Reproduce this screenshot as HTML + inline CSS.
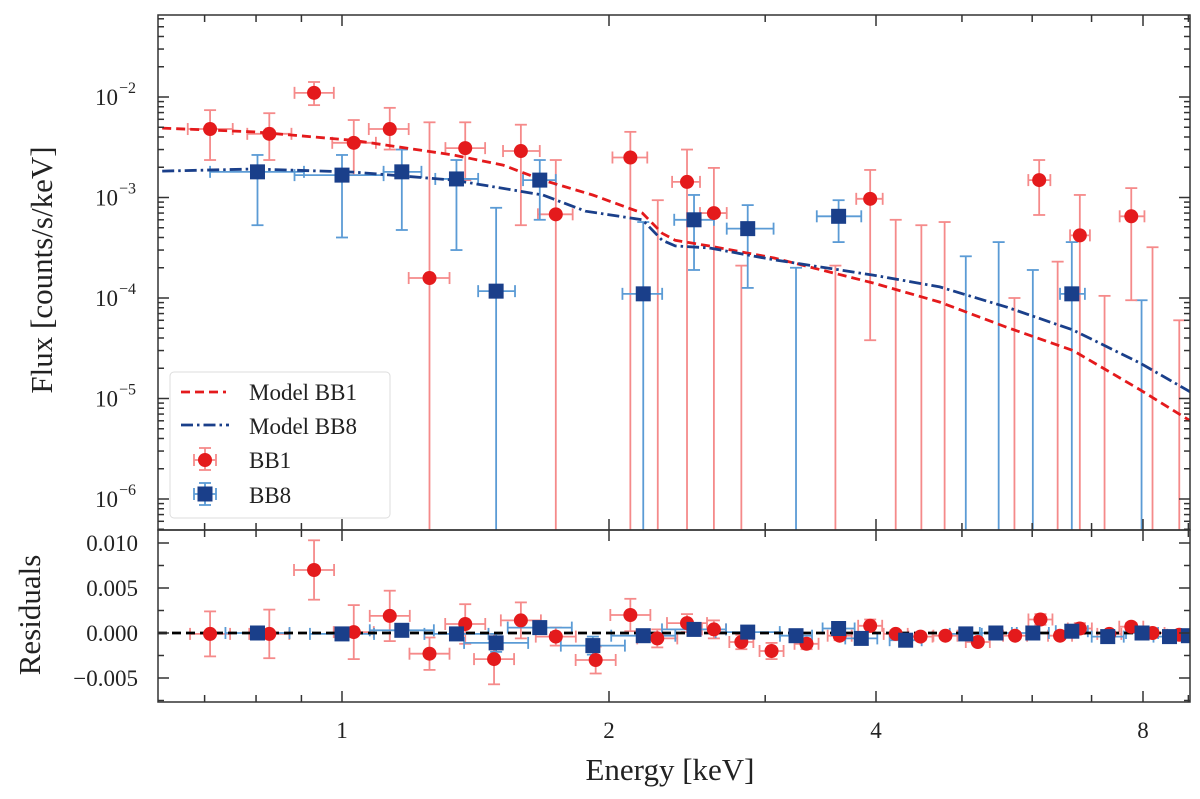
<!DOCTYPE html>
<html><head><meta charset="utf-8">
<style>
html,body{margin:0;padding:0;background:#fff;}
svg{display:block;font-family:"Liberation Serif",serif;}
</style></head>
<body>
<svg id="chart" width="1200" height="799" viewBox="0 0 1200 799" xmlns="http://www.w3.org/2000/svg"></svg>
<script>
// ---------- data ----------
const bb1E    = [0.710,0.828,0.930,1.031,1.132,1.255,1.377,1.591,1.742,2.114,2.449,2.626,3.94,6.11,6.79,7.76];
const bb1ELo  = [0.670,0.782,0.884,0.975,1.072,1.189,1.308,1.519,1.663,2.018,2.356,2.533,3.80,5.94,6.62,7.53];
const bb1EHi  = [0.753,0.877,0.979,1.092,1.189,1.322,1.450,1.671,1.820,2.209,2.533,2.715,4.07,6.29,6.97,8.03];
const bb1F    = [4.8e-3,4.3e-3,1.10e-2,3.5e-3,4.8e-3,1.58e-4,3.1e-3,2.9e-3,6.8e-4,2.5e-3,1.43e-3,7.0e-4,9.7e-4,1.49e-3,4.2e-4,6.5e-4];
const bb1FLo  = [2.36e-3,2.36e-3,8.3e-3,1.67e-3,3.0e-3,1e-7,1.49e-3,5.3e-4,1e-7,1e-7,1e-7,1e-7,3.8e-5,6.7e-4,1e-7,9.5e-5];
const bb1FHi  = [7.4e-3,6.9e-3,1.41e-2,5.9e-3,7.8e-3,5.6e-3,5.6e-3,5.3e-3,2.36e-3,4.5e-3,3.0e-3,1.97e-3,1.88e-3,2.36e-3,1.06e-3,1.24e-3];
const bb1UlE  = [2.27,2.82,3.60,4.21,4.50,4.78,5.73,6.41,7.24,8.20,8.79];
const bb1UlF  = [9.4e-4,2.1e-4,2.1e-4,6.0e-4,5.3e-4,5.7e-4,1.0e-4,2.3e-4,1.05e-4,3.2e-4,6.0e-5];
const bb8E    = [0.803,1.000,1.168,1.346,1.492,1.671,2.186,2.494,2.867,3.63,6.65];
const bb8ELo  = [0.710,0.884,1.114,1.274,1.424,1.600,2.071,2.369,2.715,3.43,6.45];
const bb8EHi  = [0.906,1.114,1.229,1.424,1.567,1.742,2.296,2.626,3.066,3.85,6.88];
const bb8F    = [1.8e-3,1.67e-3,1.8e-3,1.53e-3,1.17e-4,1.49e-3,1.1e-4,6.0e-4,4.9e-4,6.5e-4,1.1e-4];
const bb8FLo  = [5.3e-4,4.0e-4,4.75e-4,3.0e-4,1e-7,6.0e-4,1e-7,1.9e-4,1.26e-4,3.6e-4,1e-7];
const bb8FHi  = [2.65e-3,2.65e-3,3.0e-3,2.36e-3,7.9e-4,2.36e-3,5.7e-4,1.06e-3,8.4e-4,9.4e-4,3.6e-4];
const bb8UlE  = [3.25,5.05,5.50,6.01,7.97];
const bb8UlF  = [2.0e-4,2.6e-4,3.6e-4,1.9e-4,9.5e-5];
const modE1   = [0.627,0.797,1.031,1.335,1.519,1.684,1.917,2.181,2.296,2.375,2.592,3.07,3.97,4.72,5.62,6.67,7.94,9.1];
const modF1   = [4.9e-3,4.5e-3,3.7e-3,2.65e-3,2.1e-3,1.49e-3,1.06e-3,7.0e-4,4.4e-4,3.75e-4,3.3e-4,2.5e-4,1.41e-4,9.1e-5,5.1e-5,3.0e-5,1.22e-5,5.8e-6];
const modE8   = [0.627,0.797,1.031,1.335,1.684,1.882,2.181,2.296,2.375,2.592,3.07,3.97,4.72,5.62,6.67,7.94,9.1];
const modF8   = [1.83e-3,1.92e-3,1.79e-3,1.49e-3,1.06e-3,7.3e-4,6.0e-4,3.75e-4,3.3e-4,3.15e-4,2.4e-4,1.69e-4,1.29e-4,8.1e-5,4.8e-5,2.25e-5,1.13e-5];
const resE1   = [0.710,0.828,0.930,1.031,1.132,1.255,1.377,1.484,1.591,1.742,1.932,2.114,2.267,2.449,2.626,2.82,3.05,3.34,3.64,3.94,4.21,4.49,4.79,5.21,5.74,6.13,6.45,6.79,7.33,7.76,8.20,8.79];
const resV1   = [-0.0001,-0.0001,0.0070,0.0001,0.0019,-0.0023,0.0010,-0.0029,0.0014,-0.0004,-0.0030,0.0020,-0.0006,0.0011,0.0004,-0.0010,-0.0020,-0.0012,-0.0003,0.0008,-0.0001,-0.0004,-0.0003,-0.0010,-0.0003,0.0015,-0.0003,0.0005,-0.0001,0.0007,0.0000,-0.0002];
const resErr1 = [0.0025,0.0027,0.0033,0.0030,0.0028,0.0018,0.0022,0.0028,0.0020,0.0010,0.0015,0.0018,0.0010,0.0010,0.0010,0.0008,0.0009,0.0006,0.0005,0.0007,0.0004,0.0004,0.0003,0.0003,0.0003,0.0006,0.0003,0.0006,0.0003,0.0004,0.0003,0.0003];
const resE8   = [0.803,1.000,1.168,1.346,1.492,1.671,1.918,2.186,2.494,2.867,3.25,3.63,3.85,4.32,5.05,5.46,6.01,6.65,7.30,7.98,8.57,9.00];
const resV8   = [0.0000,-0.0001,0.0003,-0.0001,-0.0011,0.0006,-0.0014,-0.0003,0.0004,0.0001,-0.0003,0.0005,-0.0006,-0.0008,-0.0001,0.0000,0.0000,0.0002,-0.0004,0.0000,-0.0004,-0.0003];
const resErr8 = [0.0004,0.0004,0.0004,0.0005,0.0010,0.0005,0.0010,0.0005,0.0004,0.0004,0.0004,0.0004,0.0004,0.0004,0.0003,0.0003,0.0003,0.0003,0.0003,0.0003,0.0003,0.0003];
const resBin1 = 0.075;
const xTickVals = [1,2,4,8];
const yTickExp  = [-2,-3,-4,-5,-6];
const rTickVals = [0.010,0.005,0.000,-0.005];
const rTickLbls = ["0.010","0.005","0.000","\u22120.005"];

const L=158,R=1190,T1=15,B1=530,T2=530,B2=702;
const X1=342,OCT=267;
function xs(e){return X1+OCT*Math.log2(e);}
function ys(f){return 97+100.5*(-2-Math.log10(f));}
function yr(v){return 633-9000*v;}
const svg=document.getElementById('chart');
const NS='http://www.w3.org/2000/svg';
function mk(tag,at,parent){const el=document.createElementNS(NS,tag);for(const k in at)el.setAttribute(k,at[k]);(parent||svg).appendChild(el);return el;}

const RED='#e41a1c',REDL='#f58a8a',BLU='#1a3f8a',BLUL='#5b9bd5';

const defs=mk('defs',{});
const c1=mk('clipPath',{id:'c1'},defs);mk('rect',{x:L,y:T1,width:R-L,height:B1-T1},c1);
const c2=mk('clipPath',{id:'c2'},defs);mk('rect',{x:L,y:T2,width:R-L,height:B2-T2},c2);

const gTop=mk('g',{'clip-path':'url(#c1)'});


const gRes=mk('g',{'clip-path':'url(#c2)'});



function vbar(grp,x,ylo,yhi,capT,capB){
  mk('line',{x1:x,y1:ylo,x2:x,y2:yhi},grp);
  if(capT)mk('line',{x1:x-6,y1:yhi,x2:x+6,y2:yhi},grp);
  if(capB)mk('line',{x1:x-6,y1:ylo,x2:x+6,y2:ylo},grp);
}
function hbar(grp,x0,x1,y){
  mk('line',{x1:x0,y1:y,x2:x1,y2:y},grp);
  mk('line',{x1:x0,y1:y-6,x2:x0,y2:y+6},grp);
  mk('line',{x1:x1,y1:y-6,x2:x1,y2:y+6},grp);
}
function modelPath(E,F){return E.map((e,i)=>(i?'L':'M')+xs(e).toFixed(1)+','+ys(F[i]).toFixed(1)).join(' ');}

for(let i=0;i<bb1UlE.length;i++){
  const g=mk('g',{stroke:REDL,'stroke-width':1.8},gTop);
  
  
  vbar(g,xs(bb1UlE[i]),B1+5,ys(bb1UlF[i]),true,false);
}
for(let i=0;i<bb8UlE.length;i++){
  const g=mk('g',{stroke:BLUL,'stroke-width':1.8},gTop);
  
  
  vbar(g,xs(bb8UlE[i]),B1+5,ys(bb8UlF[i]),true,false);
}
for(let i=0;i<bb1E.length;i++){
  const g=mk('g',{stroke:REDL,'stroke-width':1.8},gTop);
  
  
  const y=ys(bb1F[i]),x=xs(bb1E[i]);
  hbar(g,xs(bb1ELo[i]),xs(bb1EHi[i]),y);
  vbar(g,x,Math.min(ys(bb1FLo[i]),B1+5),ys(bb1FHi[i]),true,bb1FLo[i]>1e-6);
}
for(let i=0;i<bb8E.length;i++){
  const g=mk('g',{stroke:BLUL,'stroke-width':1.8},gTop);
  
  
  const y=ys(bb8F[i]),x=xs(bb8E[i]);
  hbar(g,xs(bb8ELo[i]),xs(bb8EHi[i]),y);
  vbar(g,x,Math.min(ys(bb8FLo[i]),B1+5),ys(bb8FHi[i]),true,bb8FLo[i]>1e-6);
}
const m1=mk('path',{d:modelPath(modE1,modF1),fill:'none',stroke:RED,'stroke-width':2.8,'stroke-dasharray':'9,5'},gTop);


const m8=mk('path',{d:modelPath(modE8,modF8),fill:'none',stroke:BLU,'stroke-width':2.8,'stroke-dasharray':'12,4,2.5,4'},gTop);


for(let i=0;i<bb1E.length;i++){
  const c=mk('circle',{cx:xs(bb1E[i]),cy:ys(bb1F[i]),r:7,fill:RED},gTop);
  
  
}
for(let i=0;i<bb8E.length;i++){
  const r=mk('rect',{x:xs(bb8E[i])-7.5,y:ys(bb8F[i])-7.5,width:15,height:15,fill:BLU},gTop);
  
  
}

for(let i=0;i<resE1.length;i++){
  const g=mk('g',{stroke:REDL,'stroke-width':1.8},gRes);
  
  
  const w=resE1[i]<2.5?resBin1:0.045;
  const y=yr(resV1[i]);
  hbar(g,xs(resE1[i]*Math.pow(2,-w)),xs(resE1[i]*Math.pow(2,w)),y);
  vbar(g,xs(resE1[i]),yr(resV1[i]-resErr1[i]),yr(resV1[i]+resErr1[i]),true,true);
}
for(let i=0;i<resE8.length;i++){
  const g=mk('g',{stroke:BLUL,'stroke-width':1.8},gRes);
  
  
  const w=resE8[i]<3?0.12:0.06;
  const y=yr(resV8[i]);
  hbar(g,xs(resE8[i]*Math.pow(2,-w)),xs(resE8[i]*Math.pow(2,w)),y);
  vbar(g,xs(resE8[i]),yr(resV8[i]-resErr8[i]),yr(resV8[i]+resErr8[i]),true,true);
}
const zl=mk('line',{x1:L,y1:yr(0),x2:R,y2:yr(0),stroke:'#000','stroke-width':2.8,'stroke-dasharray':'9,5'},gRes);


for(let i=0;i<resE1.length;i++){
  const c=mk('circle',{cx:xs(resE1[i]),cy:yr(resV1[i]),r:7,fill:RED},gRes);
  
  
}
for(let i=0;i<resE8.length;i++){
  const r=mk('rect',{x:xs(resE8[i])-7.5,y:yr(resV8[i])-7.5,width:15,height:15,fill:BLU},gRes);
  
  
}

const ax=mk('g',{stroke:'#333','stroke-width':1.5,fill:'none'});


mk('rect',{x:L,y:T1,width:R-L,height:B1-T1},ax);
mk('rect',{x:L,y:T2,width:R-L,height:B2-T2},ax);
const xMinor=[0.7,0.8,0.9,3,5,6,7,9];
function xt(v,major){
  const x=xs(v),len=major?11:7;
  [[T1,1],[B1,-1],[T2,1],[B2,-1]].forEach(([y,d])=>mk('line',{x1:x,y1:y,x2:x,y2:y+d*len},ax));
}
xTickVals.forEach(v=>xt(v,true));
xMinor.forEach(v=>xt(v,false));
for(let e=-7;e<=-1;e++){
  for(let m=1;m<10;m++){
    const y=ys(m*Math.pow(10,e));
    if(y<T1||y>B1)continue;
    const len=m===1?11:6;
    mk('line',{x1:L,y1:y,x2:L+len,y2:y},ax);
    mk('line',{x1:R,y1:y,x2:R-len,y2:y},ax);
  }
}
rTickVals.forEach(v=>{const y=yr(v);mk('line',{x1:L,y1:y,x2:L+11,y2:y},ax);mk('line',{x1:R,y1:y,x2:R-11,y2:y},ax);});
[-0.0075,-0.0025,0.0025,0.0075].forEach(v=>{const y=yr(v);mk('line',{x1:L,y1:y,x2:L+6,y2:y},ax);mk('line',{x1:R,y1:y,x2:R-6,y2:y},ax);});

const lab=mk('g',{fill:'#222','font-size':23});


xTickVals.forEach(v=>{const t=mk('text',{x:xs(v),y:738,'text-anchor':'middle'},lab);t.textContent=String(v);
  });
yTickExp.forEach(e=>{const y=ys(Math.pow(10,e));
  const t=mk('text',{x:118,y:y+8,'text-anchor':'end'},lab);t.textContent='10';
  
  const s=mk('text',{x:119,y:y-4,'font-size':16},lab);s.textContent='\u2212'+(-e);});
rTickVals.forEach((v,i)=>{const t=mk('text',{x:138,y:yr(v)+8,'text-anchor':'end'},lab);t.textContent=rTickLbls[i];
  });

let t=mk('text',{x:670,y:780,'text-anchor':'middle','font-size':31,fill:'#222'});t.textContent='Energy [keV]';

t=mk('text',{x:0,y:0,'text-anchor':'middle','font-size':31,fill:'#222',transform:'translate(52,270) rotate(-90)'});t.textContent='Flux [counts/s/keV]';

t=mk('text',{x:0,y:0,'text-anchor':'middle','font-size':31,fill:'#222',transform:'translate(40,615) rotate(-90)'});t.textContent='Residuals';


const lg=mk('g',{});


mk('rect',{x:170,y:372,width:220,height:146,rx:4,fill:'#fff','fill-opacity':0.85,stroke:'#ddd','stroke-width':1},lg);
mk('line',{x1:181,y1:392,x2:226,y2:392,stroke:RED,'stroke-width':2.8,'stroke-dasharray':'9,5'},lg);
mk('line',{x1:181,y1:425,x2:229,y2:425,stroke:BLU,'stroke-width':2.8,'stroke-dasharray':'12,4,2.5,4'},lg);
let g=mk('g',{stroke:REDL,'stroke-width':1.8},lg);hbar(g,194,216,460);vbar(g,205,470,448,true,true);
mk('circle',{cx:205,cy:460,r:7,fill:RED},lg);
g=mk('g',{stroke:BLUL,'stroke-width':1.8},lg);hbar(g,194,216,494);vbar(g,205,505,483,true,true);
mk('rect',{x:197.5,y:486.5,width:15,height:15,fill:BLU},lg);
[['Model BB1',400,'legend-entry-model-bb1'],['Model BB8',434,'legend-entry-model-bb8'],['BB1',468,'legend-entry-bb1'],['BB8',503,'legend-entry-bb8']].forEach(([s,y,n])=>{
  const tt=mk('text',{x:249,y:y,'font-size':23,fill:'#222'},lg);tt.textContent=s;
  });
</script>
</body></html>
